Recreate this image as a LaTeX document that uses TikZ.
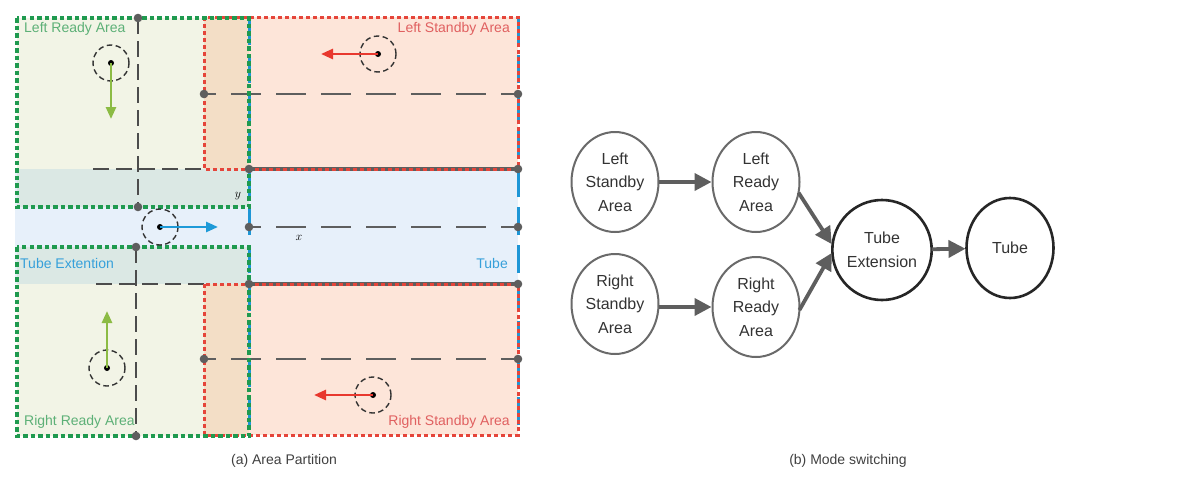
\documentclass[tikz,border=0pt]{standalone}
\usepackage{fontspec}
\setmainfont{Liberation Sans}
\usetikzlibrary{arrows.meta,shapes.geometric}
\definecolor{grnline}{HTML}{1F9A4F}
\definecolor{redline}{HTML}{E5453A}
\definecolor{blueline}{HTML}{1E96D6}
\definecolor{greenfill}{HTML}{F2F4E6}
\definecolor{redfill}{HTML}{FDE5D9}
\definecolor{tanfill}{HTML}{F3DEC6}
\definecolor{bluefill}{HTML}{E7F0FA}
\definecolor{tealfill}{HTML}{DBE8E4}
\definecolor{axisgray}{HTML}{5E5E5E}
\definecolor{grntext}{HTML}{5DB077}
\definecolor{redtext}{HTML}{E06060}
\definecolor{bluetext}{HTML}{36A0DA}
\definecolor{arrgreen}{HTML}{8CBB44}
\definecolor{arrred}{HTML}{E8382E}
\definecolor{arrblue}{HTML}{1E9AD8}
\definecolor{nodegray}{HTML}{6A6A6A}
\definecolor{txtgray}{HTML}{333333}
\tikzset{
  grnborder/.style={draw=grnline, line width=3.4pt, dash pattern=on 4.5pt off 3pt},
  redborder/.style={draw=redline, line width=3pt, dash pattern=on 4pt off 3pt},
  bluedash/.style={draw=blueline, line width=3pt, dash pattern=on 28pt off 10pt},
  axisline/.style={draw=axisgray, line width=3.4pt},
  longdash/.style={draw=axisgray, line width=2pt, dash pattern=on 30pt off 15pt, dash phase=18pt},
  blkdash/.style={draw=black!70, line width=1.7pt, dash pattern=on 16pt off 7pt},
  pin/.style={fill=axisgray},
  robot/.style={draw=black!80, line width=1.4pt, dash pattern=on 5.5pt off 3.5pt},
  motion/.style={line width=2.6pt, -{Triangle[length=12pt,width=10pt]}},
  arealabel/.style={font=\fontsize{14}{16}\selectfont, inner sep=0pt},
  state/.style={ellipse, draw=nodegray, line width=2pt, minimum width=87pt, minimum height=100pt,
     align=center, text=txtgray, font=\fontsize{16}{23.5}\selectfont, inner sep=0pt, outer sep=0pt},
  mainstate/.style={state, draw=black!85, line width=2.6pt},
  flow/.style={draw=axisgray, line width=3.8pt, -{Triangle[length=17pt,width=17pt]}, shorten >=1pt},
  caption/.style={font=\fontsize{14}{16}\selectfont, text=black!75}
}
\begin{document}
\begin{tikzpicture}[x=1pt,y=-1pt]
\useasboundingbox (0,0) rectangle (1180,482);
\fill[white] (0,0) rectangle (1180,482);
% ---------- (a) area partition: fills
\fill[greenfill] (17,18) rectangle (249,207);
\fill[greenfill] (17,247) rectangle (249,436);
\fill[redfill] (249,17) rectangle (518,169);
\fill[redfill] (249,284) rectangle (518,435);
\fill[tanfill] (204,17) rectangle (249,169);
\fill[tanfill] (204,284) rectangle (249,435);
\fill[bluefill] (15,169) rectangle (518,284);
\fill[tealfill] (17,169) rectangle (249,207);
\fill[tealfill] (17,247) rectangle (249,284);
% tube boundaries (blue)
\draw[bluedash] (249,17) -- (249,436);
\draw[bluedash] (518,17) -- (518,436);
% helper lines
\draw[longdash] (204,94) -- (518,94);
\draw[longdash] (249,227) -- (518,227);
\draw[longdash] (204,359) -- (518,359);
\draw[blkdash] (138,18) -- (138,207);
\draw[blkdash] (93,169) -- (204,169);
\draw[blkdash] (136,247) -- (136,436);
\draw[blkdash] (96,284) -- (204,284);
\draw[axisline] (249,169) -- (518,169);
\draw[axisline] (249,284) -- (518,284);
% area borders
\draw[redborder] (204,17) rectangle (518,169);
\draw[redborder] (204,284) rectangle (518,435);
\draw[grnborder] (17,18) rectangle (249,207);
\draw[grnborder] (17,247) rectangle (249,436);
% pins
\foreach \p in {(138,18),(138,207),(136,247),(136,436),(204,94),(518,94),(249,169),(518,169),
                (249,227),(518,227),(249,284),(518,284),(204,359),(518,359)}
  \fill[pin] \p circle[radius=4.3pt];
% axis labels
\node[font=\fontsize{13}{13}\selectfont, inner sep=0pt] (ylab) at (238,196) {$y$};
\node[font=\fontsize{13}{13}\selectfont, inner sep=0pt] (xlab) at (299,238) {$x$};
% robots
\coordinate (r1) at (111,63);
\coordinate (r1t) at (111,119);
\draw[robot] (r1) circle[radius=18pt];
\fill (r1) circle[radius=3pt];
\draw[motion, arrgreen] (r1) -- (r1t);
\coordinate (r2) at (378,54);
\coordinate (r2t) at (321,54);
\draw[robot] (r2) circle[radius=18pt];
\fill (r2) circle[radius=3pt];
\draw[motion, arrred] (r2) -- (r2t);
\coordinate (r3) at (160,227);
\coordinate (r3t) at (218,227);
\draw[robot] (r3) circle[radius=18pt];
\fill (r3) circle[radius=3pt];
\draw[motion, arrblue] (r3) -- (r3t);
\coordinate (r4) at (107,368);
\coordinate (r4t) at (107,311);
\draw[robot] (r4) circle[radius=18pt];
\fill (r4) circle[radius=3pt];
\draw[motion, arrgreen] (r4) -- (r4t);
\coordinate (r5) at (373,395);
\coordinate (r5t) at (314,395);
\draw[robot] (r5) circle[radius=18pt];
\fill (r5) circle[radius=3pt];
\draw[motion, arrred] (r5) -- (r5t);
% area labels
\node[arealabel, text=grntext, anchor=west] (lra) at (24,29) {Left Ready Area};
\node[arealabel, text=redtext, anchor=east] (lsa) at (510,29) {Left Standby Area};
\node[arealabel, text=bluetext, anchor=west] (tea) at (20,263) {Tube Extention};
\node[arealabel, text=bluetext, anchor=east] (tua) at (508,263) {Tube};
\node[arealabel, text=grntext, anchor=west] (rra) at (24,422) {Right Ready Area};
\node[arealabel, text=redtext, anchor=east] (rsa) at (510,422) {Right Standby Area};
\node[caption] (capa) at (284,461) {(a) Area Partition};
% ---------- (b) mode switching
\node[state] (ls) at (615,182) {Left\\Standby\\Area};
\node[state] (lr) at (756,182) {Left\\Ready\\Area};
\node[state] (rs) at (615,304) {Right\\Standby\\Area};
\node[state] (rr) at (756,307) {Right\\Ready\\Area};
\node[mainstate] (te) at (882,250) {Tube\\Extension};
\node[mainstate] (tb) at (1010,248) {Tube};
\draw[flow] (ls) -- (lr);
\draw[flow] (rs.east |- rr) -- (rr);
\draw[flow] (lr.-14) -- ([yshift=5pt]te.west);
\draw[flow] (rr.-4) -- ([yshift=-2pt]te.west);
\draw[flow] (te) -- (tb);
\node[caption] (capb) at (848,461) {(b) Mode switching};
\end{tikzpicture}
\end{document}
